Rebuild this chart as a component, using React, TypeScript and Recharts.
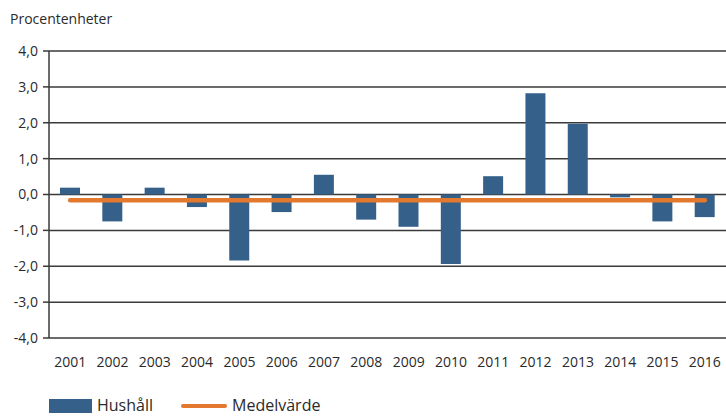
import React from 'react';
import { ComposedChart, Bar, Line, XAxis, YAxis, CartesianGrid, Legend } from 'recharts';

const years = ['2001','2002','2003','2004','2005','2006','2007','2008','2009','2010','2011','2012','2013','2014','2015','2016'];
const hushall = [0.19, -0.75, 0.19, -0.35, -1.84, -0.49, 0.55, -0.70, -0.90, -1.94, 0.51, 2.82, 1.97, -0.08, -0.75, -0.63];
const medelvarde = [-0.16, -0.16, -0.16, -0.16, -0.16, -0.16, -0.16, -0.16, -0.16, -0.16, -0.16, -0.16, -0.16, -0.16, -0.16, -0.16];
const yTicks = [-4, -3, -2, -1, 0, 1, 2, 3, 4];
const yTitle = 'Procentenheter';
const seriesNames = { bar: 'Hushåll', line: 'Medelvärde' };

const data = years.map((y, i) => ({ year: y, hushall: hushall[i], medel: medelvarde[i] }));

const FONT = '"Open Sans", "Noto Sans", sans-serif';
const BAR_COLOR = '#346089';
const LINE_COLOR = '#E2792F';
const GRID = '#3a3a3a';
const TEXT = '#2a2a2a';

const fmt = (v: number) => v.toFixed(1).replace('.', ',');

const LegendContent = () => (
  <div style={{ display: 'flex', alignItems: 'center', fontFamily: FONT, fontSize: 16, lineHeight: '17px', height: 17, color: TEXT }}>
    <span style={{ display: 'inline-block', width: 43, height: 14, background: BAR_COLOR, marginRight: 5 }} />
    <span style={{ marginRight: 28 }}>{seriesNames.bar}</span>
    <span style={{ display: 'inline-block', width: 46, height: 4, background: LINE_COLOR, borderRadius: 2, marginRight: 5 }} />
    <span>{seriesNames.line}</span>
  </div>
);

export default function App() {
  return (
    <div style={{ position: 'relative', width: 726, height: 416, background: '#fff' }}>
      <style>{'body{margin:0}'}</style>
      <div style={{ position: 'absolute', left: 10, top: 9, fontFamily: FONT, fontSize: 14, color: TEXT, lineHeight: '20px' }}>
        {yTitle}
      </div>
      <ComposedChart width={726} height={416} data={data} margin={{ top: 51, right: 0, bottom: 0, left: 0 }}>
        <CartesianGrid vertical={false} stroke={GRID} strokeWidth={1.5} />
        <XAxis
          dataKey="year"
          height={78}
          axisLine={false}
          tickLine={false}
          tickSize={0}
          tickMargin={19}
          interval={0}
          tick={{ fontFamily: FONT, fontSize: 14, fill: TEXT }}
        />
        <YAxis
          width={49}
          domain={[-4, 4]}
          ticks={yTicks}
          tickFormatter={fmt}
          axisLine={{ stroke: GRID, strokeWidth: 1.5 }}
          tickLine={{ stroke: GRID, strokeWidth: 1.5 }}
          tickSize={6}
          tickMargin={5}
          tick={{ fontFamily: FONT, fontSize: 14, fill: TEXT }}
          interval={0}
        />
        <Bar dataKey="hushall" name={seriesNames.bar} fill={BAR_COLOR} barSize={20} isAnimationActive={false} />
        <Line dataKey="medel" name={seriesNames.line} stroke={LINE_COLOR} strokeWidth={4.5} strokeLinecap="round" dot={false} activeDot={false} type="linear" isAnimationActive={false} />
        <Legend
          layout="horizontal"
          verticalAlign="middle"
          align="center"
          content={<LegendContent />}
          wrapperStyle={{ top: 397, left: 49, width: 'auto', height: 17 }}
        />
      </ComposedChart>
    </div>
  );
}
